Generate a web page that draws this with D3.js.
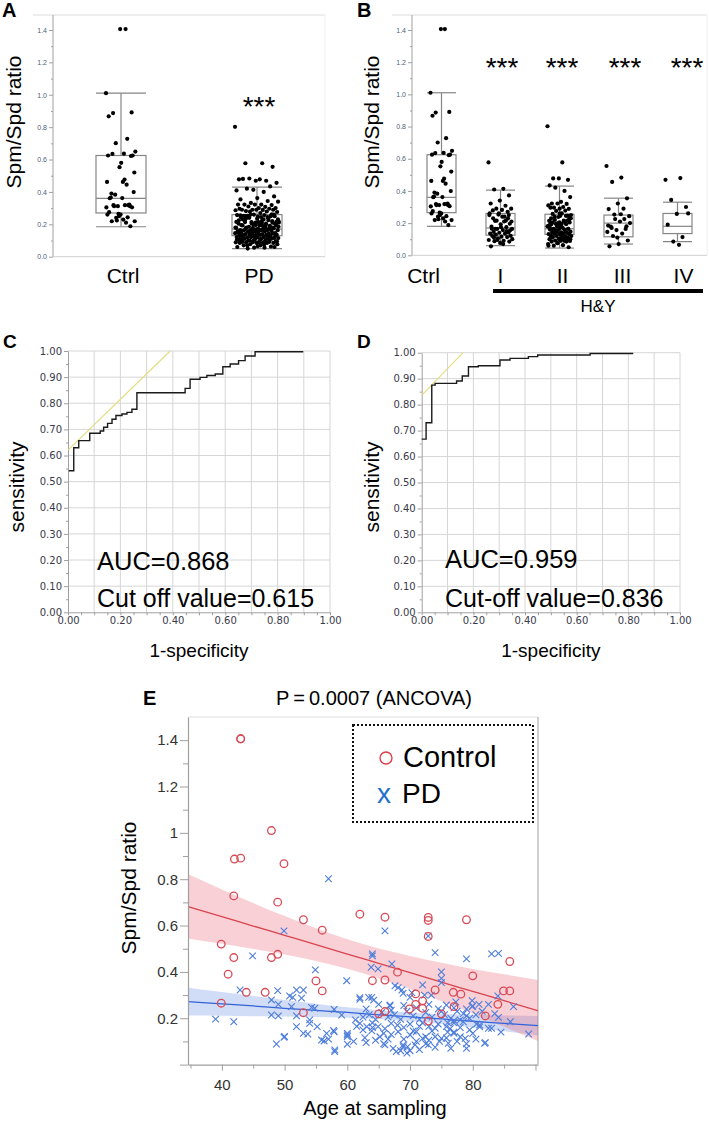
<!DOCTYPE html>
<html><head><meta charset="utf-8">
<script src="https://cdn.jsdelivr.net/npm/d3@7"></script>
<style>body{margin:0;background:#fff} svg{display:block}</style>
</head><body><svg id="c" width="709" height="1125"></svg>
<script>
// ---------------- DATA ----------------
const ratioTicks = [0, 0.2, 0.4, 0.6, 0.8, 1.0, 1.2, 1.4];
const boxCatsA = ["Ctrl", "PD"];
const boxQ1A = [0.27, 0.13], boxMedA = [0.36, 0.17], boxQ3A = [0.625, 0.26], boxLoA = [0.185, 0.05], boxHiA = [1.01, 0.43];
const boxCatsB = ["Ctrl", "I", "II", "III", "IV"];
const boxQ1B = [0.265, 0.125, 0.13, 0.115, 0.135], boxMedB = [0.36, 0.17, 0.165, 0.2, 0.18], boxQ3B = [0.625, 0.26, 0.255, 0.25, 0.26], boxLoB = [0.18, 0.06, 0.045, 0.07, 0.085], boxHiB = [1.01, 0.405, 0.43, 0.355, 0.33];
const sigB = ["", "***", "***", "***", "***"];

const rocTicks = [0, 0.1, 0.2, 0.3, 0.4, 0.5, 0.6, 0.7, 0.8, 0.9, 1.0];
const rocXLabels = [0, 0.2, 0.4, 0.6, 0.8, 1.0];
const rocC_fpr = [0.003, 0.022, 0.041, 0.083, 0.123, 0.136, 0.151, 0.168, 0.183, 0.206, 0.225, 0.244, 0.263, 0.447, 0.466, 0.504, 0.530, 0.562, 0.591, 0.619, 0.651, 0.676, 0.714, 0.898];
const rocC_tpr = [0.542, 0.630, 0.657, 0.685, 0.694, 0.708, 0.723, 0.739, 0.753, 0.759, 0.765, 0.777, 0.840, 0.857, 0.892, 0.899, 0.906, 0.912, 0.940, 0.950, 0.963, 0.981, 0.997, 0.997];
const tangentC = [[0, 0.621], [0.39, 1.0]];
const rocD_fpr = [0.0, 0.017, 0.039, 0.052, 0.135, 0.157, 0.181, 0.219, 0.303, 0.342, 0.413, 0.449, 0.652, 0.819];
const rocD_tpr = [0.667, 0.730, 0.875, 0.882, 0.891, 0.910, 0.946, 0.950, 0.972, 0.978, 0.985, 0.991, 0.997, 0.997];
const tangentD = [[0, 0.836], [0.16, 1.0]];

const ctrlAge = [47.9,48.9,42.0,43.0,43.0,49.9,41.9,48.9,39.9,41.9,41.0,43.9,39.9,47.9,43.0,46.9,53.0,56.0,55.0,56.0,53.0,62.0,66.0,72.9,72.9,72.9,79.0,85.9,80.0,68.0,64.0,66.0,74.0,76.9,78.1,84.9,85.9,70.9,70.9,72.0,72.0,69.9,65.0,66.0,75.0,72.9,77.0,84.0,82.0];
const ctrlRatio = [1.010,0.476,0.887,0.891,1.406,0.867,0.728,0.701,0.520,0.462,0.390,0.312,0.265,0.462,1.406,0.312,0.625,0.580,0.361,0.318,0.224,0.649,0.636,0.635,0.622,0.553,0.625,0.445,0.383,0.399,0.362,0.365,0.322,0.312,0.304,0.318,0.318,0.305,0.260,0.275,0.243,0.240,0.219,0.229,0.219,0.188,0.250,0.260,0.210];

// [age, ratio, H&Y stage]
const pdPoints = [
[57.0,0.802,2],[49.9,0.577,1],[66.0,0.577,2],[72.9,0.555,3],[44.9,0.469,4],[64.0,0.478,2],[64.0,0.469,2],[74.0,0.483,3],
[79.0,0.456,3],[83.0,0.478,2],[84.1,0.480,4],[67.1,0.434,2],[64.9,0.413,1],[54.9,0.409,1],[75.0,0.400,2],[63.8,0.420,2],
[75.0,0.372,1],[59.9,0.362,2],[75.0,0.354,3],[72.0,0.344,4],[68.1,0.332,2],[67.6,0.340,1],[68.7,0.322,2],[42.9,0.322,1],
[48.9,0.319,2],[51.9,0.322,2],[53.0,0.322,3],[68.9,0.308,1],[70.3,0.310,2],[72.3,0.300,4],[73.4,0.300,2],[70.0,0.290,1],
[50.8,0.296,2],[51.3,0.290,1],[52.7,0.287,3],[62.0,0.289,2],[62.0,0.282,1],[63.9,0.290,2],[63.4,0.290,3],[84.0,0.296,2],
[47.9,0.279,1],[64.2,0.278,2],[79.9,0.276,2],[77.3,0.270,1],[80.0,0.253,3],[79.9,0.250,2],[49.0,0.260,2],[66.8,0.257,4],
[75.8,0.257,2],[66.8,0.253,1],[51.1,0.250,1],[54.3,0.247,2],[54.8,0.243,3],[57.9,0.238,2],[47.9,0.214,2],[49.0,0.210,1],
[51.9,0.210,2],[59.1,0.214,1],[78.5,0.220,2],[79.0,0.210,3],[84.1,0.204,2],[39.0,0.196,1],[41.9,0.185,2],[54.0,0.193,2],
[61.3,0.193,1],[78.0,0.193,2],[77.0,0.190,4],[54.0,0.178,1],[62.0,0.178,2],[67.0,0.178,3],[77.0,0.180,2],[80.6,0.175,1],
[81.1,0.171,2],[51.9,0.164,2],[55.2,0.164,1],[63.1,0.164,2],[64.9,0.164,1],[75.8,0.164,3],[81.1,0.163,2],[64.0,0.160,2],
[74.0,0.157,1],[83.0,0.157,2],[82.5,0.157,3],[76.4,0.155,2],[63.9,0.146,1],[57.8,0.147,2],[57.9,0.142,2],[68.1,0.142,1],
[71.0,0.142,2],[70.5,0.145,3],[77.0,0.140,1],[76.0,0.140,2],[73.5,0.145,2],[53.0,0.135,1],[53.7,0.132,2],[56.7,0.135,2],
[60.0,0.135,1],[65.8,0.135,2],[77.0,0.135,3],[88.9,0.132,2],[70.0,0.128,1],[60.0,0.128,2],[60.0,0.121,2],[50.0,0.121,1],
[49.9,0.118,2],[62.8,0.116,1],[65.2,0.120,2],[72.5,0.120,3],[74.0,0.120,2],[78.0,0.120,1],[75.8,0.115,2],[72.0,0.113,2],
[75.0,0.113,1],[78.8,0.113,4],[57.0,0.110,2],[55.9,0.106,1],[56.3,0.102,2],[74.7,0.100,2],[82.0,0.095,1],[79.0,0.090,2],
[76.1,0.092,3],[81.9,0.092,2],[72.5,0.090,1],[48.7,0.089,2],[60.0,0.088,1],[65.8,0.090,2],[66.0,0.085,2],[68.9,0.085,1],
[70.8,0.085,2],[72.9,0.085,4],[69.6,0.077,2],[68.9,0.077,1],[67.3,0.070,3],[79.0,0.070,2],[58.0,0.063,2],[58.0,0.056,1],
[68.5,0.060,2],[67.8,0.056,3],[69.5,0.050,2],
[62.5,0.205,2],[63.5,0.215,1],[64.5,0.195,2],[65.5,0.225,3],[66.5,0.205,2],[67.5,0.215,1],[68.5,0.195,2],[69.5,0.230,2],
[70.5,0.210,1],[71.5,0.195,2],[72.5,0.225,3],[73.5,0.205,2],[74.5,0.240,1],[75.5,0.215,2],[76.5,0.200,2],[77.5,0.230,1],
[78.5,0.185,2],[79.5,0.200,3],[80.5,0.215,2],[81.5,0.230,1],[63.0,0.240,2],[65.0,0.260,1],[67.0,0.235,2],[69.0,0.255,3],
[71.0,0.245,2],[73.0,0.260,1],[75.0,0.230,2],[77.0,0.245,2],[79.0,0.240,1],[81.0,0.260,4],[61.5,0.165,1],[62.5,0.150,2],
[64.0,0.180,2],[66.0,0.155,1],[67.0,0.130,2],[68.0,0.170,3],[69.0,0.160,2],[70.0,0.175,1],[71.5,0.165,2],[72.0,0.180,2],
[73.0,0.165,1],[74.5,0.175,2],[76.0,0.180,3],[78.0,0.160,2],[79.5,0.150,1],[80.0,0.135,2],[61.0,0.100,2],[63.0,0.095,1],
[64.5,0.105,2],[66.5,0.110,3],[69.0,0.110,2],[71.0,0.100,1],[73.0,0.105,2],[74.0,0.075,2],[76.5,0.070,1],[70.0,0.060,2],
[71.5,0.065,4],[77.5,0.100,2],[80.5,0.110,1],[84.5,0.140,2],[86.0,0.185,3],[83.5,0.220,2],[86.5,0.250,1],[82.5,0.260,2]
];

const fitAges = [34.6, 40, 45, 50, 55, 60, 65, 70, 75, 80, 85, 90.4];
const ctrlFit   = [0.682, 0.639, 0.598, 0.558, 0.518, 0.477, 0.437, 0.397, 0.356, 0.316, 0.276, 0.232];
const ctrlUpper = [0.821, 0.756, 0.697, 0.641, 0.588, 0.541, 0.501, 0.469, 0.440, 0.413, 0.390, 0.365];
const ctrlLower = [0.544, 0.521, 0.499, 0.475, 0.447, 0.414, 0.373, 0.326, 0.273, 0.220, 0.163, 0.102];
const pdFit   = [0.272, 0.262, 0.253, 0.243, 0.234, 0.225, 0.215, 0.206, 0.197, 0.187, 0.178, 0.168];
const pdUpper = [0.332, 0.313, 0.296, 0.279, 0.263, 0.247, 0.234, 0.224, 0.218, 0.215, 0.212, 0.210];
const pdLower = [0.212, 0.211, 0.209, 0.208, 0.205, 0.202, 0.197, 0.188, 0.175, 0.160, 0.144, 0.126];
const ageTicks = [40, 50, 60, 70, 80];
const eRatioTicks = [0.2, 0.4, 0.6, 0.8, 1.0, 1.2, 1.4];

// ---------------- DRAW ----------------
const FONT = '"Liberation Sans", Arial, Helvetica, sans-serif';
const svg = d3.select("#c").attr("font-family", FONT);
const jit = (i, w) => (((i * 0.6180339887) % 1) * 2 - 1) * w;

function txt(g, x, y, s, size, opts = {}) {
  const t = g.append("text").attr("x", x).attr("y", y).text(s).attr("font-size", size)
    .attr("fill", opts.fill || "#000").attr("text-anchor", opts.anchor || "start");
  if (opts.bold) t.attr("font-weight", "bold");
  if (opts.rotate) t.attr("transform", `rotate(-90,${x},${y})`).attr("dominant-baseline", "central");
  if (opts.family) t.attr("font-family", opts.family);
  return t;
}

function boxPanel(g, x, y, cats, q1, med, q3, lo, hi, bw, xLeft, xRight, top) {
  const y0 = y(0);
  g.append("line").attr("x1", xLeft - 20).attr("x2", xRight).attr("y1", top).attr("y2", top).attr("stroke", "#dcdcdc");
  g.append("line").attr("x1", xRight).attr("x2", xRight).attr("y1", top).attr("y2", y0).attr("stroke", "#f0f0f0");
  g.append("line").attr("x1", xLeft).attr("x2", xRight).attr("y1", y0).attr("y2", y0).attr("stroke", "#d0d0d0");
  g.append("line").attr("x1", xLeft).attr("x2", xLeft).attr("y1", top).attr("y2", y0).attr("stroke", "#a0a0a0");
  const ax = d3.axisLeft(y).tickValues(ratioTicks).tickSize(4).tickSizeOuter(0).tickFormat(d3.format(".1f"));
  const ga = g.append("g").attr("transform", `translate(${xLeft},0)`).call(ax);
  ga.select(".domain").remove();
  ga.selectAll(".tick line").attr("stroke", "#a0a0a0");
  ga.selectAll("text").attr("font-size", 7).attr("fill", "#4d5f78").attr("font-family", FONT).attr("x", -6);
  const minor = d3.axisLeft(y).tickValues([0.1, 0.3, 0.5, 0.7, 0.9, 1.1, 1.3]).tickSize(2).tickFormat("");
  const gm = g.append("g").attr("transform", `translate(${xLeft},0)`).call(minor);
  gm.select(".domain").remove(); gm.selectAll(".tick line").attr("stroke", "#a0a0a0");
  cats.forEach((c, i) => {
    const cx = x(c) + x.bandwidth() / 2;
    const st = "#858585";
    g.append("rect").attr("x", cx - bw / 2).attr("y", y(q3[i])).attr("width", bw).attr("height", y(q1[i]) - y(q3[i]))
      .attr("fill", "#fff").attr("stroke", st).attr("stroke-width", 1.2);
    g.append("line").attr("x1", cx - bw / 2).attr("x2", cx + bw / 2).attr("y1", y(med[i])).attr("y2", y(med[i])).attr("stroke", st).attr("stroke-width", 1.2);
    g.append("line").attr("x1", cx).attr("x2", cx).attr("y1", y(hi[i])).attr("y2", y(q3[i])).attr("stroke", st).attr("stroke-width", 1.2);
    g.append("line").attr("x1", cx).attr("x2", cx).attr("y1", y(q1[i])).attr("y2", y(lo[i])).attr("stroke", st).attr("stroke-width", 1.2);
    [hi[i], lo[i]].forEach(v => g.append("line").attr("x1", cx - bw / 2).attr("x2", cx + bw / 2).attr("y1", y(v)).attr("y2", y(v)).attr("stroke", st).attr("stroke-width", 1.2));
  });
}

function dots(g, cx, vals, y, w) {
  g.selectAll(null).data(vals).join("circle")
    .attr("cx", (d, i) => cx + jit(i, w)).attr("cy", d => y(d)).attr("r", 2.1).attr("fill", "#000");
}

// ---- Panel A ----
{
  const g = svg.append("g");
  const x = d3.scaleBand().domain(boxCatsA).range([53, 325]);
  const y = d3.scaleLinear().domain([0, 1.4]).range([256.7, 30]);
  boxPanel(g, x, y, boxCatsA, boxQ1A, boxMedA, boxQ3A, boxLoA, boxHiA, 50, 53, 325, 15);
  dots(g, x("Ctrl") + x.bandwidth() / 2, ctrlRatio, y, 15);
  dots(g, x("PD") + x.bandwidth() / 2, pdPoints.map(d => d[1]), y, 22);
  txt(g, x("PD") + x.bandwidth() / 2 + 2, 116, "***", 28, { anchor: "middle" });
  boxCatsA.forEach(c => txt(g, x(c) + x.bandwidth() / 2 + 2, 283, c, 21, { anchor: "middle" }));
  txt(g, 13, 122, "Spm/Spd ratio", 21, { anchor: "middle", rotate: true });
  txt(g, 2, 17, "A", 20, { bold: true });
}

// ---- Panel B ----
{
  const g = svg.append("g");
  const x = d3.scaleBand().domain(boxCatsB).range([412, 707]);
  const y = d3.scaleLinear().domain([0, 1.4]).range([255.3, 30]);
  boxPanel(g, x, y, boxCatsB, boxQ1B, boxMedB, boxQ3B, boxLoB, boxHiB, 29, 412, 707, 15);
  const groups = [ctrlRatio].concat([1, 2, 3, 4].map(s => pdPoints.filter(d => d[2] === s).map(d => d[1])));
  const labelDx = [-18, 0, 3, 4, 6];
  const starDx = [0, 1.5, 2.5, 6.5, 9.5];
  boxCatsB.forEach((c, i) => {
    const cx = x(c) + x.bandwidth() / 2;
    dots(g, cx, groups[i], y, i === 0 ? 11 : 12);
    txt(g, cx + labelDx[i], 283, c, 21, { anchor: "middle" });
    if (sigB[i]) txt(g, cx + starDx[i], 77, sigB[i], 28, { anchor: "middle" });
  });
  g.append("line").attr("x1", 493).attr("x2", 703).attr("y1", 291).attr("y2", 291).attr("stroke", "#000").attr("stroke-width", 4);
  txt(g, 598, 312, "H&Y", 17, { anchor: "middle" });
  txt(g, 371, 122, "Spm/Spd ratio", 21, { anchor: "middle", rotate: true });
  txt(g, 357, 17, "B", 20, { bold: true });
}

// ---- Panels C, D ----
function rocPanel(x0, x1, yTop, yBot, fpr, tpr, tangent, t1, t2, tx, ty1, ty2, ylabX, letter, letterX) {
  const g = svg.append("g");
  const x = d3.scaleLinear().domain([0, 1]).range([x0, x1]);
  const y = d3.scaleLinear().domain([0, 1]).range([yBot, yTop]);
  rocTicks.slice(1).forEach(v => {
    g.append("line").attr("x1", x(v)).attr("x2", x(v)).attr("y1", y(0)).attr("y2", y(1)).attr("stroke", "#d6d6d6");
    g.append("line").attr("x1", x(0)).attr("x2", x(1)).attr("y1", y(v)).attr("y2", y(v)).attr("stroke", "#d6d6d6");
  });
  const ay = g.append("g").attr("transform", `translate(${x0},0)`)
    .call(d3.axisLeft(y).tickValues(rocTicks).tickSize(4).tickSizeOuter(0).tickFormat(d3.format(".2f")));
  ay.select(".domain").attr("stroke", "#a0a0a0");
  ay.selectAll(".tick line").attr("stroke", "#a0a0a0");
  ay.selectAll("text").attr("font-size", 10).attr("fill", "#3a3a4a").attr("font-family", '"DejaVu Sans", sans-serif').attr("x", -6);
  const aym = g.append("g").attr("transform", `translate(${x0},0)`)
    .call(d3.axisLeft(y).tickValues(d3.range(0.05, 1, 0.1)).tickSize(2).tickFormat(""));
  aym.select(".domain").remove(); aym.selectAll(".tick line").attr("stroke", "#a0a0a0");
  const ax = g.append("g").attr("transform", `translate(0,${yBot})`)
    .call(d3.axisBottom(x).tickValues(d3.range(0, 1.001, 0.05)).tickSize(3).tickSizeOuter(0)
      .tickFormat(d => rocXLabels.some(v => Math.abs(v - d) < 1e-6) ? d3.format(".2f")(d) : ""));
  ax.select(".domain").attr("stroke", "#a0a0a0");
  ax.selectAll(".tick line").attr("stroke", "#a0a0a0");
  ax.selectAll("text").attr("font-size", 10).attr("fill", "#3a3a4a").attr("font-family", '"DejaVu Sans", sans-serif').attr("y", 5);
  g.append("path").attr("d", d3.line().x(d => x(d[0])).y(d => y(d[1]))(tangent)).attr("stroke", "#e4dc7c").attr("stroke-width", 1.1).attr("fill", "none");
  const pts = fpr.map((f, i) => [f, tpr[i]]);
  g.append("path").attr("d", d3.line().x(d => x(d[0])).y(d => y(d[1])).curve(d3.curveStepAfter)(pts))
    .attr("stroke", "#1a1a1a").attr("stroke-width", 1.4).attr("fill", "none");
  txt(g, tx, ty1, t1, 25.5);
  txt(g, tx, ty2, t2, 25);
  txt(g, (x0 + x1) / 2, 657, "1-specificity", 19, { anchor: "middle" });
  txt(g, ylabX, 487, "sensitivity", 21, { anchor: "middle", rotate: true });
  txt(g, letterX, 348, letter, 19, { bold: true });
}
rocPanel(68, 330, 351, 612.3, rocC_fpr, rocC_tpr, tangentC, "AUC=0.868", "Cut off value=0.615", 97, 570, 607, 16, "C", 3);
rocPanel(421.7, 680, 352.7, 612.3, rocD_fpr, rocD_tpr, tangentD, "AUC=0.959", "Cut-off value=0.836", 445, 568, 607, 371, "D", 357);

// ---- Panel E ----
{
  const g = svg.append("g");
  const x = d3.scaleLinear().domain([34.6, 90.4]).range([188, 538]);
  const y = d3.scaleLinear().domain([0, 1.5]).range([1064.6, 717]);
  g.append("line").attr("x1", 188).attr("x2", 538).attr("y1", 717).attr("y2", 717).attr("stroke", "#e0e0e0");
  g.append("line").attr("x1", 538).attr("x2", 538).attr("y1", 717).attr("y2", 1064.6).attr("stroke", "#b0b0b0").attr("stroke-width", 1.2);
  const area = (lo, up) => d3.area().x((d, i) => x(fitAges[i])).y0((d, i) => y(lo[i])).y1((d, i) => y(up[i])).curve(d3.curveMonotoneX)(fitAges);
  g.append("path").attr("d", area(pdLower, pdUpper)).attr("fill", "rgb(90,130,225)").attr("fill-opacity", 0.28);
  g.append("path").attr("d", area(ctrlLower, ctrlUpper)).attr("fill", "rgb(232,110,125)").attr("fill-opacity", 0.32);
  const line = arr => d3.line().x((d, i) => x(fitAges[i])).y((d, i) => y(arr[i])).curve(d3.curveMonotoneX)(fitAges);
  g.append("path").attr("d", line(pdFit)).attr("stroke", "#3563d6").attr("stroke-width", 1.3).attr("fill", "none");
  g.append("path").attr("d", line(ctrlFit)).attr("stroke", "#d94450").attr("stroke-width", 1.3).attr("fill", "none");
  const s = 3.3;
  g.selectAll(null).data(pdPoints).join("path")
    .attr("d", d => `M${x(d[0]) - s},${y(d[1]) - s}L${x(d[0]) + s},${y(d[1]) + s}M${x(d[0]) - s},${y(d[1]) + s}L${x(d[0]) + s},${y(d[1]) - s}`)
    .attr("stroke", "#4d7ddb").attr("stroke-width", 1.1).attr("fill", "none");
  g.selectAll(null).data(ctrlAge).join("circle")
    .attr("cx", d => x(d)).attr("cy", (d, i) => y(ctrlRatio[i])).attr("r", 3.8)
    .attr("fill", "none").attr("stroke", "#d84a55").attr("stroke-width", 1.3);
  // axes
  const ay = g.append("g").attr("transform", "translate(188,0)")
    .call(d3.axisLeft(y).tickValues([0].concat(eRatioTicks)).tickSize(8).tickSizeOuter(0).tickFormat(d => d === 0 ? "" : String(+d.toFixed(1))));
  ay.select(".domain").attr("stroke", "#a0a0a0").attr("stroke-width", 1.2);
  ay.selectAll(".tick line").attr("stroke", "#a0a0a0");
  ay.selectAll("text").attr("font-size", 15).attr("fill", "#333").attr("font-family", FONT).attr("x", -10);
  const aym = g.append("g").attr("transform", "translate(188,0)")
    .call(d3.axisLeft(y).tickValues([0.1, 0.3, 0.5, 0.7, 0.9, 1.1, 1.3]).tickSize(5).tickFormat(""));
  aym.select(".domain").remove(); aym.selectAll(".tick line").attr("stroke", "#a0a0a0");
  const ax = g.append("g").attr("transform", "translate(0,1064.6)")
    .call(d3.axisBottom(x).tickValues(ageTicks.concat([90])).tickSize(6).tickSizeOuter(0).tickFormat(d => d === 90 ? "" : d));
  ax.select(".domain").attr("stroke", "#a0a0a0").attr("stroke-width", 1.2);
  ax.selectAll(".tick line").attr("stroke", "#a0a0a0");
  ax.selectAll("text").attr("font-size", 15).attr("fill", "#333").attr("font-family", FONT).attr("y", 15);
  const axm = g.append("g").attr("transform", "translate(0,1064.6)")
    .call(d3.axisBottom(x).tickValues([35, 45, 55, 65, 75, 85]).tickSize(4).tickFormat(""));
  axm.select(".domain").remove(); axm.selectAll(".tick line").attr("stroke", "#a0a0a0");
  txt(g, 375, 1115, "Age at sampling", 20, { anchor: "middle" });
  txt(g, 128, 888, "Spm/Spd ratio", 21, { anchor: "middle", rotate: true });
  txt(g, 374, 705, "P\u2009=\u20090.0007 (ANCOVA)", 20, { anchor: "middle" });
  txt(g, 143, 705, "E", 20, { bold: true });
  // legend
  g.append("rect").attr("x", 353).attr("y", 725).attr("width", 180).attr("height", 97)
    .attr("fill", "#fff").attr("stroke", "#111").attr("stroke-width", 2).attr("stroke-dasharray", "2,2");
  g.append("circle").attr("cx", 386).attr("cy", 758).attr("r", 6).attr("fill", "none").attr("stroke", "#e0383f").attr("stroke-width", 1.3);
  txt(g, 403, 767, "Control", 29);
  txt(g, 377, 803, "x", 28, { fill: "#1f6fd0" });
  txt(g, 402, 803, "PD", 28);
}
</script></body></html>
